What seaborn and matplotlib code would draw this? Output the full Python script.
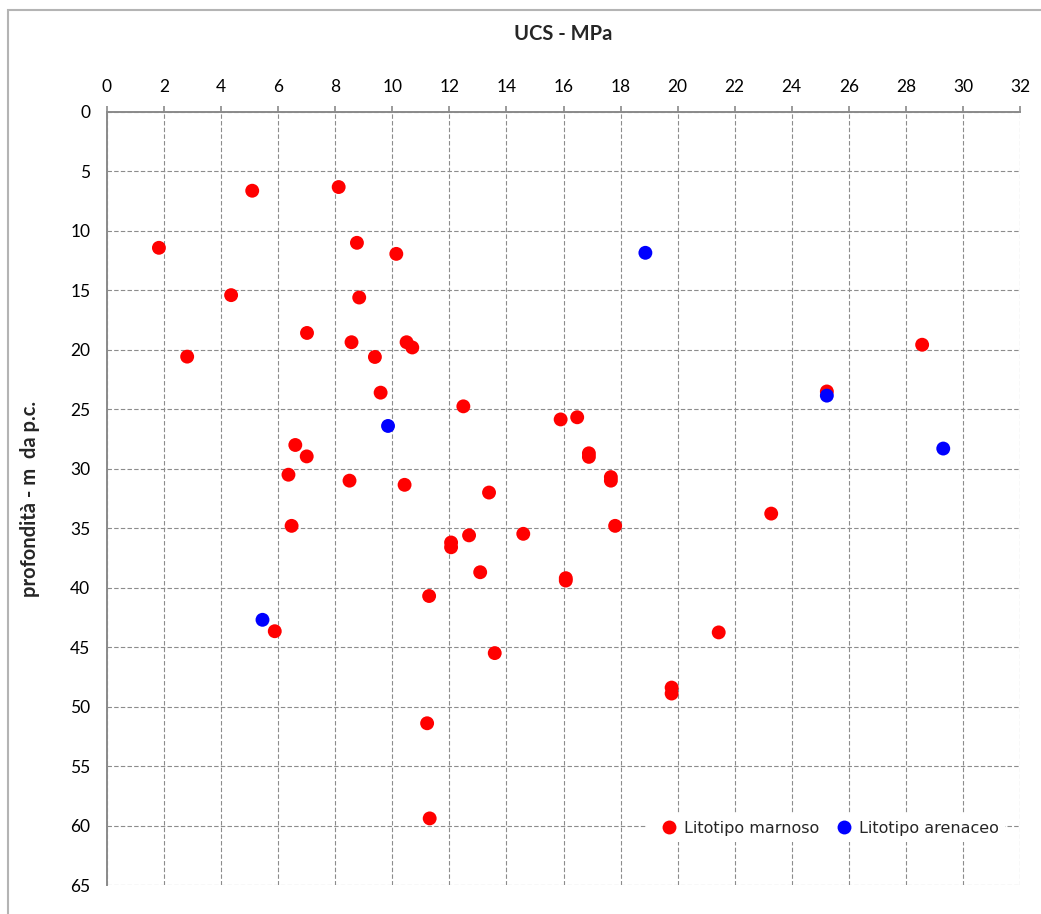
import matplotlib
matplotlib.use("Agg")
import matplotlib.pyplot as plt
from matplotlib.patches import Rectangle
import seaborn as sns
import pandas as pd

# ---- data ----
marnoso_ucs = [5.09, 8.12, 1.82, 8.76, 10.14, 4.35, 8.84, 7.01, 8.57, 10.5, 10.7, 2.81,
               9.39, 9.59, 12.49, 6.6, 7.0, 6.36, 8.5, 10.43, 6.47, 12.06, 12.06, 12.69,
               14.59, 13.39, 13.08, 11.29, 5.88, 11.22, 11.31, 15.9, 16.48, 16.89, 16.89,
               17.66, 17.66, 17.81, 16.08, 16.08, 13.59, 19.79, 19.79, 28.57, 25.23,
               23.28, 21.44]
marnoso_depth = [6.62, 6.31, 11.42, 11.0, 11.93, 15.4, 15.6, 18.58, 19.36, 19.36, 19.8, 20.57,
                 20.6, 23.6, 24.75, 28.0, 28.96, 30.5, 31.0, 31.35, 34.8, 36.2, 36.6, 35.6,
                 35.47, 32.0, 38.7, 40.7, 43.66, 51.4, 59.4, 25.85, 25.67, 28.7, 29.0,
                 30.7, 31.0, 34.8, 39.2, 39.4, 45.5, 48.4, 48.9, 19.57, 23.5,
                 33.77, 43.76]
arenaceo_ucs = [18.87, 9.85, 5.45, 25.23, 29.31]
arenaceo_depth = [11.84, 26.4, 42.7, 23.85, 28.3]

series_names = ["Litotipo marnoso", "Litotipo arenaceo"]
series_colors = ["#FF0000", "#0000FF"]
x_ticks = list(range(0, 33, 2))
y_ticks = list(range(0, 66, 5))

df = pd.DataFrame({
    "UCS": marnoso_ucs + arenaceo_ucs,
    "depth": marnoso_depth + arenaceo_depth,
    "tipo": [series_names[0]] * len(marnoso_ucs) + [series_names[1]] * len(arenaceo_ucs),
})

sns.set_style("white")
plt.rcParams["font.family"] = ["Lato", "DejaVu Sans"]

W, H = 1041, 914
fig = plt.figure(figsize=(W / 100, H / 100), dpi=100)
ax = fig.add_axes([107 / W, 1 - 885 / H, (1020 - 107) / W, (885 - 112) / H])

sns.scatterplot(data=df, x="UCS", y="depth", hue="tipo", hue_order=series_names,
                palette=dict(zip(series_names, series_colors)), s=100, linewidth=0,
                ax=ax, legend=True, zorder=3)

ax.set_xlim(0, 32)
ax.set_ylim(65, 0)
ax.set_xticks(x_ticks)
ax.set_yticks(y_ticks)
ax.xaxis.tick_top()
ax.xaxis.set_label_position("top")

ax.grid(True, color="#8c8c8c", linewidth=0.8, linestyle=(0, (4, 2)), zorder=0)
ax.set_axisbelow(True)
for side in ["right", "bottom"]:
    ax.spines[side].set_visible(False)
for side in ["left", "top"]:
    ax.spines[side].set_color("#8a8a8a")
    ax.spines[side].set_linewidth(1.4)

ax.tick_params(axis="both", which="both", direction="out", length=4, width=1.2,
               color="#8a8a8a", labelsize=12.5, labelcolor="black")
ax.tick_params(axis="x", pad=8)
ax.tick_params(axis="y", pad=8)

ax.set_xlabel("UCS - MPa", fontsize=14.5, fontweight="bold", labelpad=28)
ax.set_ylabel("profondità - m  da p.c.", fontsize=14.5, fontweight="bold", labelpad=22)

leg = ax.legend(loc="center", bbox_to_anchor=(826 / W, 1 - 828 / H),
                bbox_transform=fig.transFigure, ncol=2, frameon=True,
                handletextpad=-0.1, columnspacing=0.6, borderpad=0.4,
                prop={"family": "DejaVu Sans", "size": 11.5}, markerscale=1.0)
leg.get_frame().set_facecolor("white")
leg.get_frame().set_edgecolor("none")
leg.get_frame().set_alpha(1)
leg.set_zorder(5)

fig.patches.append(Rectangle((8 / W, -0.1), 1.2, 1 - 10 / H + 0.1,
                             transform=fig.transFigure, fill=False,
                             edgecolor="#b4b4b4", linewidth=1.5))

fig.savefig("out.png", dpi=100)
